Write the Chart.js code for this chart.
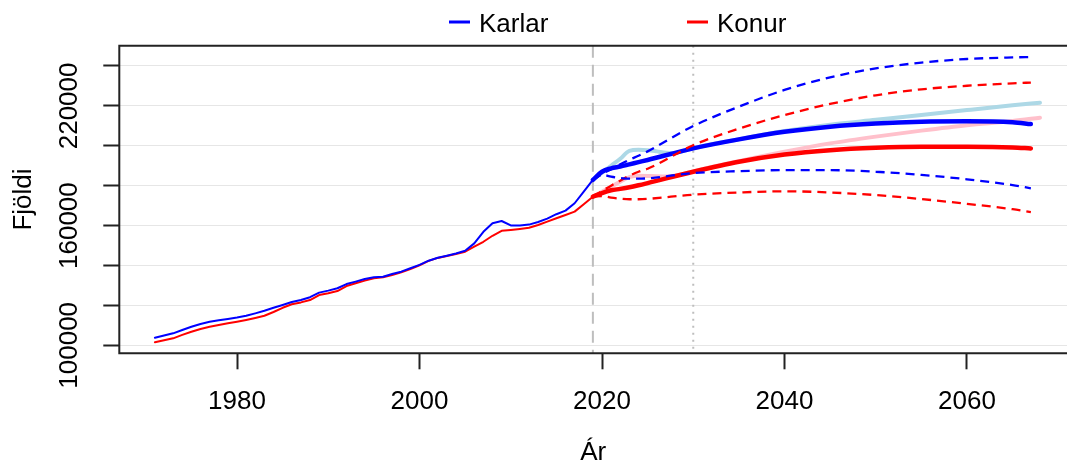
<!DOCTYPE html>
<html>
<head>
<meta charset="utf-8">
<script src="https://cdn.jsdelivr.net/npm/chart.js@4.4.1/dist/chart.umd.min.js"></script>
<style>
html,body{margin:0;padding:0;background:#fff;overflow:hidden;}
#wrap{width:1067px;height:465px;}
</style>
</head>
<body>
<div id="wrap"><canvas id="c" width="1067" height="465"></canvas></div>
<script>
// ---------- data ----------
const histYears = [1971,1972,1973,1974,1975,1976,1977,1978,1979,1980,1981,1982,1983,1984,1985,1986,1987,1988,1989,1990,1991,1992,1993,1994,1995,1996,1997,1998,1999,2000,2001,2002,2003,2004,2005,2006,2007,2008,2009,2010,2011,2012,2013,2014,2015,2016,2017,2018,2019];
const karlarHist = [103800,104900,106000,107700,109300,110700,111800,112500,113200,113900,114800,116000,117300,118800,120200,121700,122700,124100,126400,127400,128600,130700,131900,133200,134100,134400,135700,136900,138600,140300,142400,143900,144900,146000,147400,151100,156900,161200,162300,160100,160100,160500,161800,163500,165700,167500,171200,177000,182900];
const konurHist = [101500,102500,103500,105200,106800,108200,109300,110200,111000,111800,112700,113700,114800,116700,118800,120600,121500,122700,125200,126100,127200,129700,131100,132400,133600,134100,135200,136600,138200,140100,142300,143800,144800,145800,146900,149400,151900,154900,157400,157800,158300,158900,160300,162000,163700,165300,167000,170700,174500];

const projYears = [2019,2020,2021,2022,2023,2024,2025,2030,2035,2040,2045,2050,2055,2060,2065,2067];
const karlarMid   = [182900,187000,188700,189600,190700,191800,192900,198700,203200,207000,209600,211200,212100,212300,211800,210900];
const karlarHigh  = [182900,185800,188300,190700,193000,195000,197200,209900,219600,228000,234300,238800,241700,243500,244300,244500];
const karlarLow   = [182900,185500,184500,183800,183500,183500,183700,186300,187300,187800,187800,187000,185400,183200,180300,178700];
const konurMid    = [174500,176300,177700,178400,179200,180200,181300,187000,192000,195600,197800,199000,199500,199500,199200,198700];
const konurHigh   = [174500,177300,180000,182500,185000,187000,188500,200300,208600,215400,221000,225300,228300,230100,231300,231700];
const konurLow    = [174500,174800,174000,173500,173200,173200,173400,175500,176600,177200,176600,175300,173300,170900,168200,166700];

const altYears = [2019,2020,2021,2022,2023,2024,2025,2026,2027,2028,2029,2030,2035,2040,2045,2050,2055,2060,2065,2068];
const karlarAlt = [182900,186500,190000,193500,197500,198000,197800,197200,196500,196400,197500,198800,203300,207400,210600,213000,215400,217900,220300,221600];
const konurAlt  = [174500,177000,179500,182000,184300,185000,184900,184700,184600,185000,186000,187200,192300,197000,201200,204600,207600,210300,212400,214100];

const xTicks = [1980,2000,2020,2040,2060];
const yTicks = [100000,120000,140000,160000,180000,200000,220000,240000];
const yLabelled = [100000,160000,220000];
const refLines = [2019,2030];
const legendLabels = ['Karlar','Konur'];

// ---------- chart ----------
const FONT = "'Liberation Sans', Arial, Helvetica, sans-serif";
Chart.defaults.font.family = FONT;
const pts = (xs, ys) => xs.map((x, i) => ({x: x, y: ys[i]}));

const BLUE = '#0000FF', RED = '#FF0000', LBLUE = '#ADD8E6', PINK = '#FFC0CB';
const DASH = [9, 6];

function ds(label, xs, ys, color, width, order, dash, smooth) {
  return {
    label: label, data: pts(xs, ys), borderColor: color, backgroundColor: color,
    borderWidth: width, pointRadius: 0, fill: false, order: order,
    borderDash: dash || [], borderCapStyle: dash ? 'butt' : 'round', borderJoinStyle: 'round',
    tension: 0, cubicInterpolationMode: smooth ? 'monotone' : 'default'
  };
}

const datasets = [
  ds('Karlar hist', histYears, karlarHist, BLUE, 2, 5),
  ds('Konur hist', histYears, konurHist, RED, 2, 6),
  ds('Karlar alt', altYears, karlarAlt, LBLUE, 4, 9, null, true),
  ds('Konur alt', altYears, konurAlt, PINK, 4, 10, null, true),
  ds('Karlar mid', projYears, karlarMid, BLUE, 4.5, 3, null, true),
  ds('Konur mid', projYears, konurMid, RED, 4.5, 4, null, true),
  ds('Karlar high', projYears, karlarHigh, BLUE, 2.3, 1, DASH, true),
  ds('Karlar low', projYears, karlarLow, BLUE, 2.3, 1, DASH, true),
  ds('Konur high', projYears, konurHigh, RED, 2.3, 2, DASH, true),
  ds('Konur low', projYears, konurLow, RED, 2.3, 2, DASH, true)
];

const decor = {
  id: 'decor',
  beforeDatasetsDraw(chart) {
    const {ctx, chartArea: a, scales: {x}} = chart;
    ctx.save();
    ctx.strokeStyle = '#BEBEBE';
    ctx.lineWidth = 2;
    refLines.forEach((yr, i) => {
      const px = x.getPixelForValue(yr);
      ctx.setLineDash(i === 0 ? [12, 7] : [2, 5]);
      ctx.beginPath(); ctx.moveTo(px, a.top); ctx.lineTo(px, a.bottom); ctx.stroke();
    });
    ctx.restore();
  },
  afterDraw(chart) {
    const {ctx, chartArea: a} = chart;
    ctx.save();
    // frame
    ctx.strokeStyle = '#222'; ctx.lineWidth = 2; ctx.setLineDash([]);
    ctx.beginPath();
    ctx.moveTo(chart.width + 5, a.top); ctx.lineTo(a.left, a.top);
    ctx.lineTo(a.left, a.bottom); ctx.lineTo(chart.width + 5, a.bottom);
    ctx.stroke();
    // legend
    const items = [{x: 449, c: BLUE}, {x: 687, c: RED}];
    ctx.font = '26px ' + FONT; ctx.fillStyle = '#000'; ctx.textBaseline = 'alphabetic'; ctx.textAlign = 'left';
    items.forEach((it, i) => {
      ctx.strokeStyle = it.c; ctx.lineWidth = 3; ctx.lineCap = 'butt';
      ctx.beginPath(); ctx.moveTo(it.x, 22); ctx.lineTo(it.x + 21, 22); ctx.stroke();
      ctx.fillText(legendLabels[i], it.x + 30, 32);
    });
    ctx.restore();
  }
};

new Chart(document.getElementById('c'), {
  type: 'line',
  data: {datasets: datasets},
  plugins: [decor],
  options: {
    responsive: false, animation: false,
    layout: {padding: {top: 45.7, left: 0, right: 0, bottom: 0}},
    plugins: {legend: {display: false}, tooltip: {enabled: false}},
    scales: {
      x: {
        type: 'linear', min: 1967.1, max: 2070.96,
        afterBuildTicks: s => { s.ticks = xTicks.map(v => ({value: v})); },
        afterFit: s => { s.height = 111.7; },
        border: {display: false},
        grid: {display: true, drawOnChartArea: false, drawTicks: true, tickLength: 16, tickColor: '#222', tickWidth: 2},
        ticks: {font: {size: 26}, color: '#000', padding: 17, maxRotation: 0, autoSkip: false, callback: v => String(v)},
        title: {display: true, text: 'Ár', color: '#000', font: {size: 26, lineHeight: 1}, padding: {top: 0, bottom: -1}}
      },
      y: {
        type: 'linear', min: 95990, max: 250170,
        afterBuildTicks: s => { s.ticks = yTicks.map(v => ({value: v})); },
        afterFit: s => { s.width = 119.3; },
        border: {display: false},
        grid: {color: '#E6E6E6', lineWidth: 1, drawTicks: true, tickLength: 16, tickColor: '#222', tickWidth: 2},
        ticks: {font: {size: 26}, color: '#000', minRotation: 90, maxRotation: 90, crossAlign: 'center', padding: -10, autoSkip: false,
                callback: v => yLabelled.includes(v) ? String(v) : ''},
        title: {display: true, text: 'Fjöldi', color: '#000', font: {size: 26, lineHeight: 1}, padding: {top: 11, bottom: 0}}
      }
    }
  }
});
</script>
</body>
</html>
